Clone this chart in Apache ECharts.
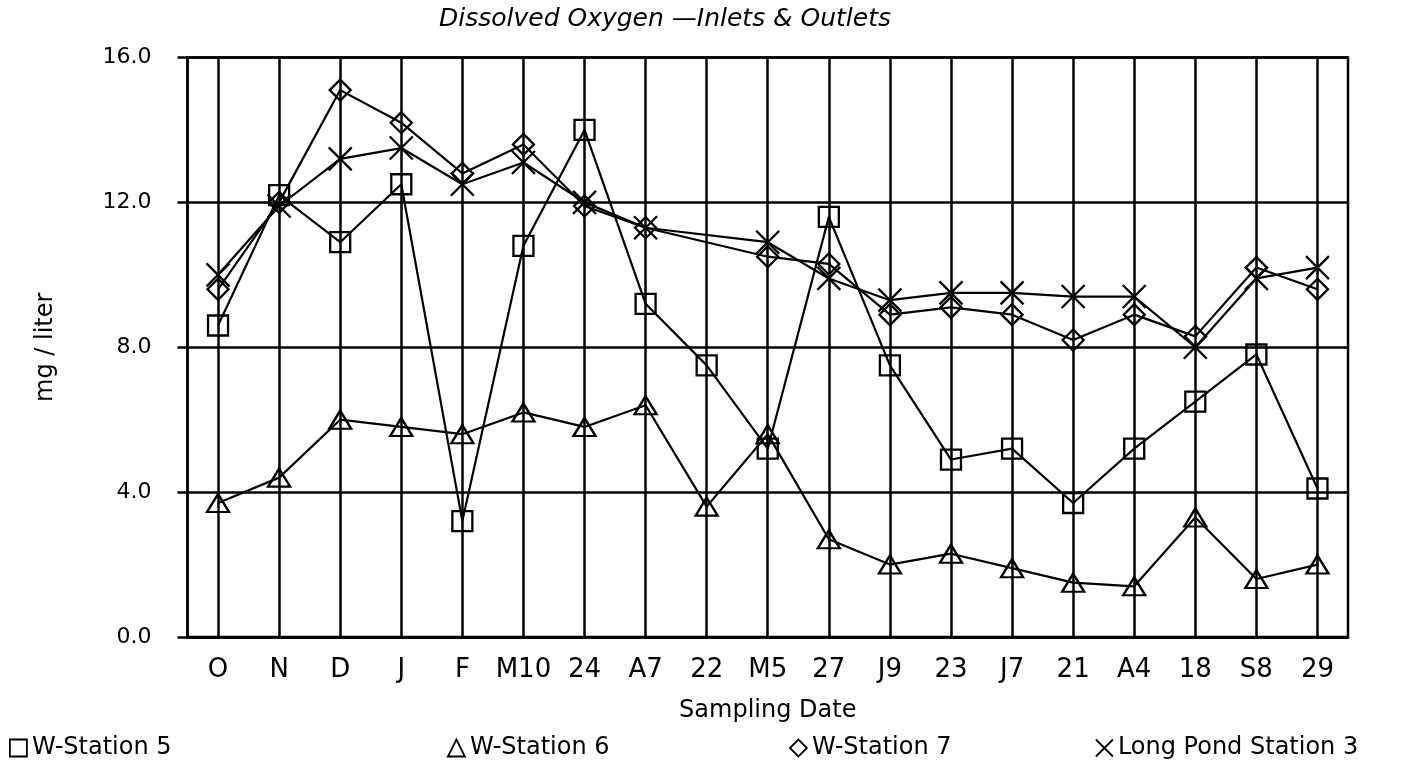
<!DOCTYPE html>
<html>
<head>
<meta charset="utf-8">
<script src="https://cdn.jsdelivr.net/npm/echarts@6/dist/echarts.min.js"></script>
<style>html,body{margin:0;padding:0;background:#fff;}#c{width:1416px;height:765px;}</style>
</head>
<body>
<div id="c"></div>
<script>
const categories = ['O','N','D','J','F','M10','24','A7','22','M5','27','J9','23','J7','21','A4','18','S8','29'];
const station5 = [8.6,12.2,10.9,12.5,3.2,10.8,14.0,9.2,7.5,5.2,11.6,7.5,4.9,5.2,3.7,5.2,6.5,7.8,4.1];
const station6 = [3.7,4.4,6.0,5.8,5.6,6.2,5.8,6.4,3.6,5.6,2.7,2.0,2.3,1.9,1.5,1.4,3.3,1.6,2.0];
const station7 = [9.6,12.0,15.1,14.2,12.8,13.6,11.9,11.3,null,10.5,10.3,8.9,9.1,8.9,8.2,8.9,8.3,10.2,9.6];
const longPond3 = [10.0,11.9,13.2,13.5,12.5,13.1,12.0,11.3,null,10.9,9.9,9.3,9.5,9.5,9.4,9.4,8.0,9.9,10.2];
const yTicks = [0,4,8,12,16];
const seriesNames = ['W-Station 5','W-Station 6','W-Station 7','Long Pond Station 3'];

const FONT = 'DejaVu Sans';
const crossPath = 'path://M0,0L10,10M0,10L10,0';
const symbols = ['rect','triangle','diamond',crossPath];
const symSizes = [[20,20],[22,18],[21,21],[23,23]];
const datas = [station5, station6, station7, longPond3];
const legendLefts = [4, 442, 784, 1090];

const series = datas.map((d,i)=>({
  name: seriesNames[i],
  type: 'line',
  data: d,
  connectNulls: true,
  symbol: symbols[i],
  symbolSize: symSizes[i],
  showAllSymbol: true,
  lineStyle: {color:'#000', width:2.2},
  itemStyle: {color:'rgba(0,0,0,0)', borderColor:'#000', borderWidth:2.3},
  emphasis: {disabled:true},
  z: 3
}));
series[0].markLine = {
  silent: true,
  symbol: ['none','none'],
  label: {show:false},
  lineStyle: {color:'#000', width:2.5, type:'solid'},
  emphasis: {disabled:true},
  data: categories.map(c=>({xAxis:c})),
  z: 1
};

const chart = echarts.init(document.getElementById('c'));
chart.setOption({
  animation: false,
  backgroundColor: '#fff',
  title: {
    text: 'Dissolved Oxygen \u2014Inlets & Outlets',
    left: 434, top: 2,
    textStyle: {fontFamily: FONT, fontStyle:'italic', fontWeight:'normal', fontSize:25, color:'#000'}
  },
  legend: seriesNames.map((n,i)=>({
    left: legendLefts[i], top: 731,
    itemWidth: 17, itemHeight: 17, itemGap: 10,
    textStyle: {fontFamily: FONT, fontSize: 24, color:'#000'},
    selectedMode: false,
    data: [{name:n, icon: symbols[i], itemStyle:{color:'rgba(0,0,0,0)', borderColor:'#000', borderWidth:1.8}}]
  })),
  grid: {left:187.5, right:68, top:57.5, bottom:128, show:true, borderColor:'#000', borderWidth:2.5, backgroundColor:'transparent'},
  xAxis: {
    type: 'category',
    data: categories,
    boundaryGap: true,
    name: 'Sampling Date',
    nameLocation: 'middle',
    nameGap: 62,
    nameTextStyle: {fontFamily: FONT, fontSize: 24, color:'#000'},
    axisLine: {lineStyle:{color:'#000', width:2.5}},
    axisTick: {alignWithLabel:true, length:10, lineStyle:{color:'#000', width:2.5}},
    axisLabel: {fontFamily: FONT, fontSize: 26, color:'#000', margin: 20, interval: 0},
    splitLine: {show:false}
  },
  yAxis: {
    type: 'value',
    min: yTicks[0], max: yTicks[yTicks.length-1], interval: 4,
    name: 'mg / liter',
    nameLocation: 'middle',
    nameGap: 130,
    nameTextStyle: {fontFamily: FONT, fontSize: 24, color:'#000'},
    axisLine: {show:true, lineStyle:{color:'#000', width:2.5}},
    axisTick: {show:true, length:10, lineStyle:{color:'#000', width:2.5}},
    axisLabel: {fontFamily: FONT, fontSize: 22, color:'#000', margin: 36, formatter: v=>v.toFixed(1)},
    splitLine: {show:true, lineStyle:{color:'#000', width:2.5}}
  },
  series: series
});
</script>
</body>
</html>
